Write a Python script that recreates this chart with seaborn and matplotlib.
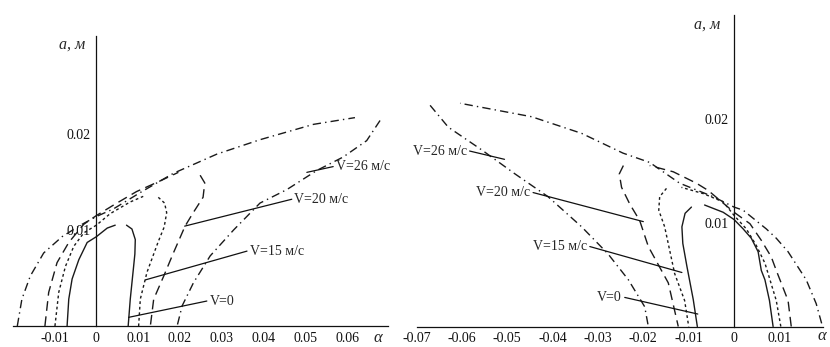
import numpy as np
import pandas as pd
import matplotlib
matplotlib.use("Agg")
import matplotlib.pyplot as plt
import seaborn as sns

# curve branches, (alpha, a) pairs
# left panel
l_v0_up = [(-0.0070, 0.0), (-0.0066, 0.0028), (-0.0058, 0.0049), (-0.0042, 0.0069),
           (-0.0022, 0.0087), (0.0, 0.0093), (0.0026, 0.0102), (0.0045, 0.0105)]
l_v0_dn = [(0.0072, 0.0105), (0.0085, 0.0101), (0.0093, 0.0090), (0.0092, 0.0075),
           (0.0089, 0.0062), (0.0081, 0.0028), (0.0076, 0.0)]
l_v15_up = [(-0.0099, 0.0), (-0.0090, 0.0035), (-0.0074, 0.0062), (-0.0054, 0.0083),
            (-0.0030, 0.0097), (0.0, 0.0105), (0.0033, 0.0117), (0.0080, 0.0129),
            (0.0112, 0.0135)]
l_v15_dn = [(0.0148, 0.0134), (0.0163, 0.0128), (0.0168, 0.0118), (0.0162, 0.0103),
            (0.0148, 0.0088), (0.0121, 0.0056), (0.0105, 0.0028), (0.0101, 0.0)]
l_v20_up = [(-0.0123, 0.0), (-0.0114, 0.0035), (-0.0094, 0.0066), (-0.0066, 0.0087),
            (-0.0030, 0.0106), (0.0, 0.0115), (0.0045, 0.0127), (0.0096, 0.0140),
            (0.0152, 0.0151), (0.0196, 0.0160)]
l_v20_dn = [(0.0248, 0.0157), (0.0259, 0.0149), (0.0255, 0.0134), (0.0230, 0.0117),
            (0.0212, 0.0104), (0.0184, 0.0076), (0.0161, 0.0052), (0.0137, 0.0028),
            (0.0129, 0.0)]
l_v26_up = [(-0.0189, 0.0), (-0.0178, 0.0028), (-0.0158, 0.0052), (-0.0126, 0.0076),
            (-0.0082, 0.0093), (-0.0038, 0.0105), (0.0, 0.0114), (0.0041, 0.0122),
            (0.0105, 0.0139), (0.0184, 0.0159), (0.0288, 0.0179), (0.0391, 0.0194),
            (0.0519, 0.0210), (0.0618, 0.0217)]
l_v26_dn = [(0.0678, 0.0214), (0.0646, 0.0193), (0.0590, 0.0176), (0.0527, 0.0162),
            (0.0455, 0.0142), (0.0391, 0.0128), (0.0328, 0.0100), (0.0272, 0.0073),
            (0.0232, 0.0045), (0.0205, 0.0021), (0.0193, 0.0)]

# right panel
r_v0_dn = [(0.0086, 0.0), (0.0078, 0.0025), (0.0068, 0.0045), (0.0060, 0.0054),
           (0.0053, 0.0072), (0.0038, 0.0085), (0.0020, 0.0094), (0.0, 0.0103),
           (-0.0024, 0.0110), (-0.0065, 0.0117)]
r_v0_up = [(-0.0094, 0.0115), (-0.0108, 0.0109), (-0.0115, 0.0096), (-0.0113, 0.0080),
           (-0.0104, 0.0058), (-0.0090, 0.0026), (-0.0081, 0.0)]
r_v15_dn = [(0.0103, 0.0), (0.0093, 0.0025), (0.0068, 0.0061), (0.0049, 0.0078),
            (0.0027, 0.0094), (0.0, 0.0107), (-0.0024, 0.0120), (-0.0068, 0.0128),
            (-0.0116, 0.0134)]
r_v15_up = [(-0.0149, 0.0133), (-0.0164, 0.0125), (-0.0166, 0.0112), (-0.0153, 0.0096),
            (-0.0131, 0.0051), (-0.0109, 0.0025), (-0.0100, 0.0)]
r_v20_dn = [(0.0126, 0.0), (0.0119, 0.0025), (0.0093, 0.0054), (0.0082, 0.0067),
            (0.0060, 0.0083), (0.0035, 0.0099), (0.0, 0.0110), (-0.0057, 0.0131),
            (-0.0083, 0.0138), (-0.0134, 0.0149), (-0.0186, 0.0155)]
r_v20_up = [(-0.0244, 0.0155), (-0.0253, 0.0147), (-0.0248, 0.0134), (-0.0230, 0.0118),
            (-0.0208, 0.0102), (-0.0189, 0.0077), (-0.0145, 0.0042), (-0.0123, 0.0)]
r_v26_dn = [(0.0193, 0.0003), (0.0181, 0.0022), (0.0159, 0.0045), (0.0119, 0.0072),
            (0.0093, 0.0085), (0.0071, 0.0094), (0.0020, 0.0112), (0.0, 0.0115),
            (-0.0046, 0.0125), (-0.0120, 0.0138), (-0.0186, 0.0158), (-0.0245, 0.0167),
            (-0.0336, 0.0186), (-0.0446, 0.0202), (-0.0604, 0.0215)]
r_v26_up = [(-0.0670, 0.0213), (-0.0630, 0.0192), (-0.0556, 0.0170), (-0.0483, 0.0147),
            (-0.0410, 0.0125), (-0.0336, 0.0096), (-0.0278, 0.0070), (-0.0233, 0.0045),
            (-0.0197, 0.0019), (-0.0189, 0.0)]

speed_labels = ["V=0", "V=15 м/с", "V=20 м/с", "V=26 м/с"]
# leader lines: (curve point, label point)
left_leaders = [((0.0077, 0.0009), (0.0264, 0.0026)),
                ((0.0117, 0.0048), (0.0360, 0.0078)),
                ((0.0211, 0.0104), (0.0467, 0.0132)),
                ((0.0503, 0.0160), (0.0566, 0.0166))]
right_leaders = [((-0.0080, 0.0012), (-0.0241, 0.0028)),
                 ((-0.0115, 0.0052), (-0.0318, 0.0077)),
                 ((-0.0200, 0.0101), (-0.0443, 0.0129)),
                 ((-0.0506, 0.0161), (-0.0583, 0.0169))]

left_xticks = [-0.01, 0, 0.01, 0.02, 0.03, 0.04, 0.05, 0.06]
left_xlabels = ["-0.01", "0", "0.01", "0.02", "0.03", "0.04", "0.05", "0.06"]
right_xticks = [-0.07, -0.06, -0.05, -0.04, -0.03, -0.02, -0.01, 0, 0.01]
right_xlabels = ["-0.07", "-0.06", "-0.05", "-0.04", "-0.03", "-0.02", "-0.01", "0", "0.01"]
yticks = [0.01, 0.02]
ylabels = ["0.01", "0.02"]

styles = ["-", (0, (2, 2)), (0, (7, 4)), (0, (6, 3, 1, 3))]

sns.set_style("white")
plt.rcParams["font.family"] = ["Liberation Serif", "DejaVu Serif"]

fig = plt.figure(figsize=(8.3, 3.47), dpi=100)
ax1 = fig.add_axes([12.7 / 830, 21 / 347, 375.3 / 830, 290 / 347])
ax2 = fig.add_axes([416.5 / 830, 20.5 / 347, 406.5 / 830, 311.5 / 347])

panels = [
    (ax1, [(l_v0_up, l_v0_dn), (l_v15_up, l_v15_dn), (l_v20_up, l_v20_dn), (l_v26_up, l_v26_dn)]),
    (ax2, [(r_v0_dn, r_v0_up), (r_v15_dn, r_v15_up), (r_v20_dn, r_v20_up), (r_v26_dn, r_v26_up)]),
]

for ax, curves in panels:
    for (b1, b2), ls in zip(curves, styles):
        for br in (b1, b2):
            df = pd.DataFrame(br, columns=["alpha", "a"])
            sns.lineplot(data=df, x="alpha", y="a", ax=ax, sort=False, estimator=None,
                         color="#1a1a1a", linewidth=1.0, linestyle=ls)

# leaders and labels
for (p0, p1), lab in zip(left_leaders, speed_labels):
    ax1.plot([p0[0], p1[0]], [p0[1], p1[1]], color="#111111", lw=0.9)
    ax1.text(p1[0] + 0.0006, p1[1], lab, fontsize=10, ha="left", va="center")
for (p0, p1), lab in zip(right_leaders, speed_labels):
    ax2.plot([p0[0], p1[0]], [p0[1], p1[1]], color="#111111", lw=0.9)
    ax2.text(p1[0] - 0.0006, p1[1], lab, fontsize=10, ha="right", va="center")

ax1.set_xlim(-0.0200, 0.0697)
ax1.set_ylim(0, 0.0302)
ax2.set_xlim(-0.0700, 0.0196)
ax2.set_ylim(0, 0.0300)

for ax, xt, xl in [(ax1, left_xticks, left_xlabels), (ax2, right_xticks, right_xlabels)]:
    ax.set_xlabel("")
    ax.set_ylabel("")
    ax.spines["top"].set_visible(False)
    ax.spines["right"].set_visible(False)
    ax.spines["left"].set_position(("data", 0))
    ax.spines["bottom"].set_position(("data", 0))
    for s in ("left", "bottom"):
        ax.spines[s].set_color("#111111")
        ax.spines[s].set_linewidth(0.9)
    ax.set_xticks(xt)
    ax.set_xticklabels(xl)
    ax.set_yticks(yticks)
    ax.set_yticklabels(ylabels)
    ax.tick_params(direction="inout", length=6, width=0.8, labelsize=10, pad=1,
                   colors="#111111")
    ax.patch.set_alpha(0)

# axis titles
fig.text(59 / 830, 1 - 45 / 347, "a, м", fontsize=11.5, style="italic", ha="left", va="center")
fig.text(694 / 830, 1 - 25 / 347, "a, м", fontsize=11.5, style="italic", ha="left", va="center")
fig.text(378 / 830, 1 - 338 / 347, "α", fontsize=12, style="italic", ha="center", va="center")
fig.text(822 / 830, 1 - 336 / 347, "α", fontsize=12, style="italic", ha="center", va="center")

fig.savefig("out.png", dpi=100, facecolor="white")
